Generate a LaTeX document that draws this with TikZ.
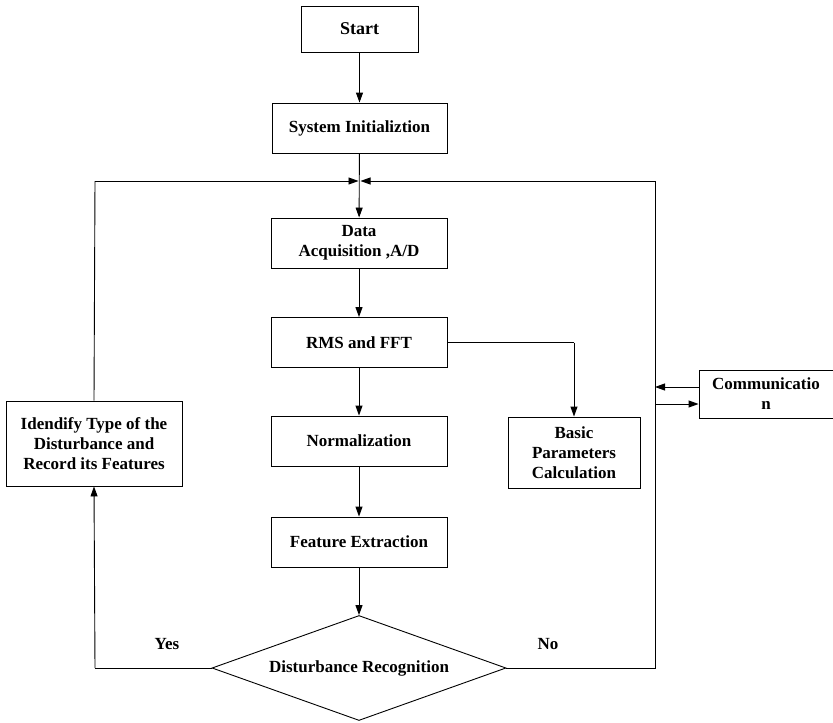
\documentclass[tikz,border=0pt]{standalone}
\usepackage{fontspec}
\setmainfont{Liberation Serif}
\usetikzlibrary{arrows.meta,shapes.geometric}
\begin{document}
\begin{tikzpicture}[x=1pt,y=-1pt,
  every node/.style={font=\fontsize{17}{20}\selectfont\bfseries},
  box/.style={draw,line width=0.9pt,minimum width=176pt,minimum height=50pt,align=center,inner sep=2pt},
  line/.style={line width=0.9pt},
  arr/.style={line width=0.9pt,-{Triangle[length=10pt,width=7pt]}},
  lbl/.style={font=\fontsize{17}{20}\selectfont\bfseries}]
\useasboundingbox (0,0) rectangle (833,723);
\node[box,minimum width=117pt,minimum height=46pt,font=\fontsize{18}{21}\selectfont\bfseries] (start) at (359.5,29) {Start};
\node[box,minimum width=175pt] (init) at (359.5,128) {System Initializtion};
\node[box] (daq) at (359,243) {Data\\Acquisition ,A/D};
\node[box] (rms) at (359,342.5) {RMS and FFT};
\node[box] (norm) at (359,441) {Normalization};
\node[box] (feat) at (359,542) {Feature Extraction};
\node[draw,line width=0.9pt,diamond,aspect=2.8,minimum width=294pt,minimum height=105pt,inner sep=0pt] (dis) at (359,668) {Disturbance Recognition};
\node[box,minimum width=176pt,minimum height=85pt,align=center] (iden) at (94,443.5) {Idendify Type of the\\Disturbance and\\Record its Features};
\node[box,minimum width=132pt,minimum height=71pt] (basic) at (574,452.5) {Basic\\Parameters\\Calculation};
\node[box,minimum width=134pt,minimum height=48pt] (comm) at (766,394) {Communicatio\\n};
\coordinate (jn) at (359.5,181);
\coordinate (jl) at (95,181);
\coordinate (jr) at (655,181);
\coordinate (yl) at (95,668);
\coordinate (nr) at (655,668);
\coordinate (bc) at (574,342.5);
\draw[arr] (start) -- (init);
\draw[arr] (init) -- (daq);
\draw[arr] (daq) -- (rms);
\draw[arr] (rms) -- (norm);
\draw[arr] (norm) -- (feat);
\draw[arr] (feat) -- (dis);
\draw[line] (rms.east) -- (bc);
\draw[arr] (bc) -- (basic.north);
\draw[line] (dis.west) -- (yl);
\draw[arr] (yl) -- (iden.south);
\draw[line] (iden.north) -- (jl);
\draw[arr] (jl) -- ([xshift=-1pt]jn);
\draw[line] (dis.east) -- (nr) -- (jr);
\draw[arr] (jr) -- ([xshift=1pt]jn);
\draw[arr] (comm.west |- 0,387) -- (655,387);
\draw[arr] (655,404) -- (comm.west |- 0,404);
\node[lbl] (yes) at (167,644) {Yes};
\node[lbl] (no) at (548,644) {No};
\end{tikzpicture}
\end{document}
